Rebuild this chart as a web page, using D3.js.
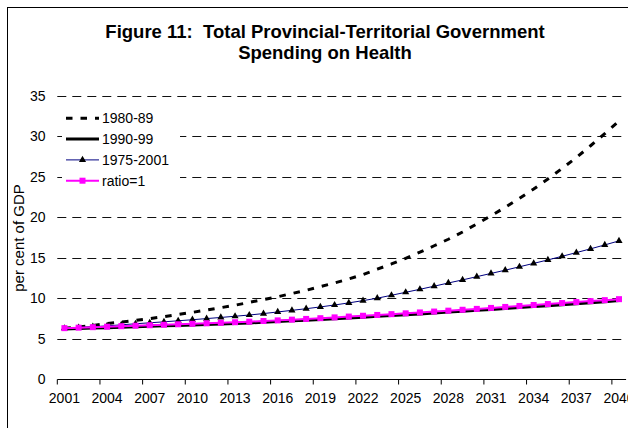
<!DOCTYPE html>
<html><head><meta charset="utf-8">
<script src="https://cdn.jsdelivr.net/npm/d3@7/dist/d3.min.js"></script>
<style>
body{margin:0;background:#fff}
svg{display:block}
text{font-family:"Liberation Sans",Arial,Helvetica,sans-serif;fill:#000}
</style>
</head><body>
<svg id="chart" width="628" height="428"></svg>
<script>
const years = [2001,2002,2003,2004,2005,2006,2007,2008,2009,2010,
               2011,2012,2013,2014,2015,2016,2017,2018,2019,2020,
               2021,2022,2023,2024,2025,2026,2027,2028,2029,2030,
               2031,2032,2033,2034,2035,2036,2037,2038,2039,2040];
const xTickLabels = [2001,2004,2007,2010,2013,2016,2019,2022,2025,2028,2031,2034,2037,2040];
const yTicks = [0,5,10,15,20,25,30,35];

const s1980_89 = [6.3,6.45,6.65,6.88,7.08,7.28,7.5,7.74,8.0,8.27,
                  8.55,8.85,9.15,9.5,9.85,10.2,10.6,11.0,11.45,11.9,
                  12.4,12.95,13.6,14.25,14.95,15.7,16.5,17.3,18.2,19.2,
                  20.2,21.25,22.35,23.5,24.75,26.05,27.4,28.85,30.35,31.9];
const s1990_99 = [6.22,6.27,6.33,6.38,6.44,6.5,6.56,6.61,6.66,6.71,
                  6.77,6.83,6.9,6.97,7.05,7.13,7.22,7.3,7.39,7.48,
                  7.58,7.68,7.78,7.88,7.98,8.08,8.19,8.3,8.41,8.52,
                  8.63,8.75,8.87,8.99,9.1,9.22,9.34,9.46,9.58,9.72];
const s1975_2001 = [6.3,6.4,6.5,6.6,6.73,6.86,6.98,7.1,7.23,7.36,
                    7.5,7.64,7.79,7.94,8.12,8.32,8.52,8.72,8.94,9.18,
                    9.44,9.72,10.02,10.38,10.75,11.12,11.5,11.9,12.28,12.68,
                    13.08,13.48,13.9,14.32,14.75,15.2,15.65,16.12,16.6,17.1];
const sRatio1 = [6.32,6.38,6.44,6.5,6.56,6.62,6.68,6.74,6.8,6.86,
                 6.92,6.98,7.05,7.12,7.2,7.28,7.37,7.46,7.55,7.65,
                 7.75,7.85,7.95,8.05,8.15,8.26,8.37,8.48,8.59,8.7,
                 8.82,8.94,9.06,9.18,9.3,9.42,9.54,9.66,9.78,9.9];

const seriesNames = ["1980-89","1990-99","1975-2001","ratio=1"];

const svg = d3.select("#chart");

// chart frame (extends past right/bottom edges)
svg.append("rect").attr("x",7.5).attr("y",7.5).attr("width",700).attr("height",500)
  .attr("fill","#fff").attr("stroke","#000").attr("stroke-width",1);

// title
const title = svg.append("text").attr("text-anchor","middle")
  .style("font-size","18.5px").style("font-weight","bold").style("white-space","pre")
  .attr("xml:space","preserve");
title.append("tspan").attr("x",325).attr("y",38).text("Figure 11:  Total Provincial-Territorial Government");
title.append("tspan").attr("x",325).attr("y",59).text("Spending on Health");

const x = d3.scaleBand().domain(years).range([57.3, 626.1]).padding(0);
const y = d3.scaleLinear().domain([0,35]).range([379.3, 96]);
const cx = d => x(d) + x.bandwidth()/2;

// gridlines
svg.append("g").selectAll("line").data(yTicks.filter(t => t > 0)).join("line")
  .attr("x1",57.3).attr("x2",626.1)
  .attr("y1",d=>Math.round(y(d))+0.5).attr("y2",d=>Math.round(y(d))+0.5)
  .attr("stroke","#111").attr("stroke-width",1).attr("stroke-dasharray","9,6");

// y tick labels
svg.append("g").selectAll("text").data(yTicks).join("text")
  .attr("x",45.5).attr("y",d=>y(d)).attr("dy","0.35em").attr("text-anchor","end")
  .style("font-size","14px").text(d=>d);

// x axis
const xAxis = d3.axisBottom(x).tickValues(xTickLabels).tickSize(0).tickPadding(0);
const gx = svg.append("g").attr("transform",`translate(0,${Math.round(y(0))+0.5})`).call(xAxis);
gx.select(".domain").attr("stroke","#000").attr("d",`M57.3,0H626.1`);
gx.selectAll(".tick text").attr("y",19).attr("dy","0.35em").style("font-size","14px")
  .style("font-family",'"Liberation Sans",Arial,sans-serif').attr("fill","#000");
gx.selectAll(".tick").append("line").attr("x1",-x.bandwidth()/2).attr("x2",-x.bandwidth()/2)
  .attr("y1",0).attr("y2",5).attr("stroke","#000");

// y title
svg.append("text").attr("transform","translate(24,238) rotate(-90)").attr("text-anchor","middle")
  .style("font-size","15px").text("per cent of GDP");

const lineGen = arr => d3.line().x((d,i)=>cx(years[i])).y(d=>y(d))(arr);

// series 1980-89
svg.append("path").attr("d",lineGen(s1980_89)).attr("fill","none").attr("stroke","#000")
  .attr("stroke-width",3).attr("stroke-dasharray","6.5,8");
// series 1990-99
svg.append("path").attr("d",lineGen(s1990_99)).attr("fill","none").attr("stroke","#000")
  .attr("stroke-width",3);
// series 1975-2001
svg.append("path").attr("d",lineGen(s1975_2001)).attr("fill","none").attr("stroke","#000080")
  .attr("stroke-width",1);
const tri = d3.symbol().type(d3.symbolTriangle).size(22);
svg.append("g").selectAll("path").data(s1975_2001).join("path")
  .attr("d",tri).attr("transform",(d,i)=>`translate(${cx(years[i])},${y(d)})`).attr("fill","#000");
// ratio=1
svg.append("path").attr("d",lineGen(sRatio1)).attr("fill","none").attr("stroke","#ff00ff")
  .attr("stroke-width",2);
svg.append("g").selectAll("rect").data(sRatio1).join("rect")
  .attr("x",(d,i)=>cx(years[i])-3).attr("y",d=>y(d)-3).attr("width",6).attr("height",6)
  .attr("fill","#ff00ff");

// legend
const lg = svg.append("g");
lg.append("rect").attr("x",62).attr("y",106).attr("width",118).attr("height",85).attr("fill","#fff");
const ly = [118.3,139.1,159.9,180.7];
const lx1 = 66, lx2 = 99;
lg.append("line").attr("x1",lx1).attr("x2",lx2).attr("y1",ly[0]).attr("y2",ly[0])
  .attr("stroke","#000").attr("stroke-width",3).attr("stroke-dasharray","6.5,8");
lg.append("line").attr("x1",lx1).attr("x2",lx2).attr("y1",ly[1]).attr("y2",ly[1])
  .attr("stroke","#000").attr("stroke-width",3);
lg.append("line").attr("x1",lx1).attr("x2",lx2).attr("y1",ly[2]).attr("y2",ly[2])
  .attr("stroke","#000080").attr("stroke-width",1);
lg.append("path").attr("d",tri).attr("transform",`translate(${(lx1+lx2)/2},${ly[2]})`).attr("fill","#000");
lg.append("line").attr("x1",lx1).attr("x2",lx2).attr("y1",ly[3]).attr("y2",ly[3])
  .attr("stroke","#ff00ff").attr("stroke-width",2);
lg.append("rect").attr("x",(lx1+lx2)/2-3).attr("y",ly[3]-3).attr("width",6).attr("height",6).attr("fill","#ff00ff");
lg.selectAll("text.lt").data(seriesNames).join("text").attr("class","lt")
  .attr("x",102).attr("y",(d,i)=>ly[i]).attr("dy","0.35em").style("font-size","14px").text(d=>d);
</script>
</body></html>
